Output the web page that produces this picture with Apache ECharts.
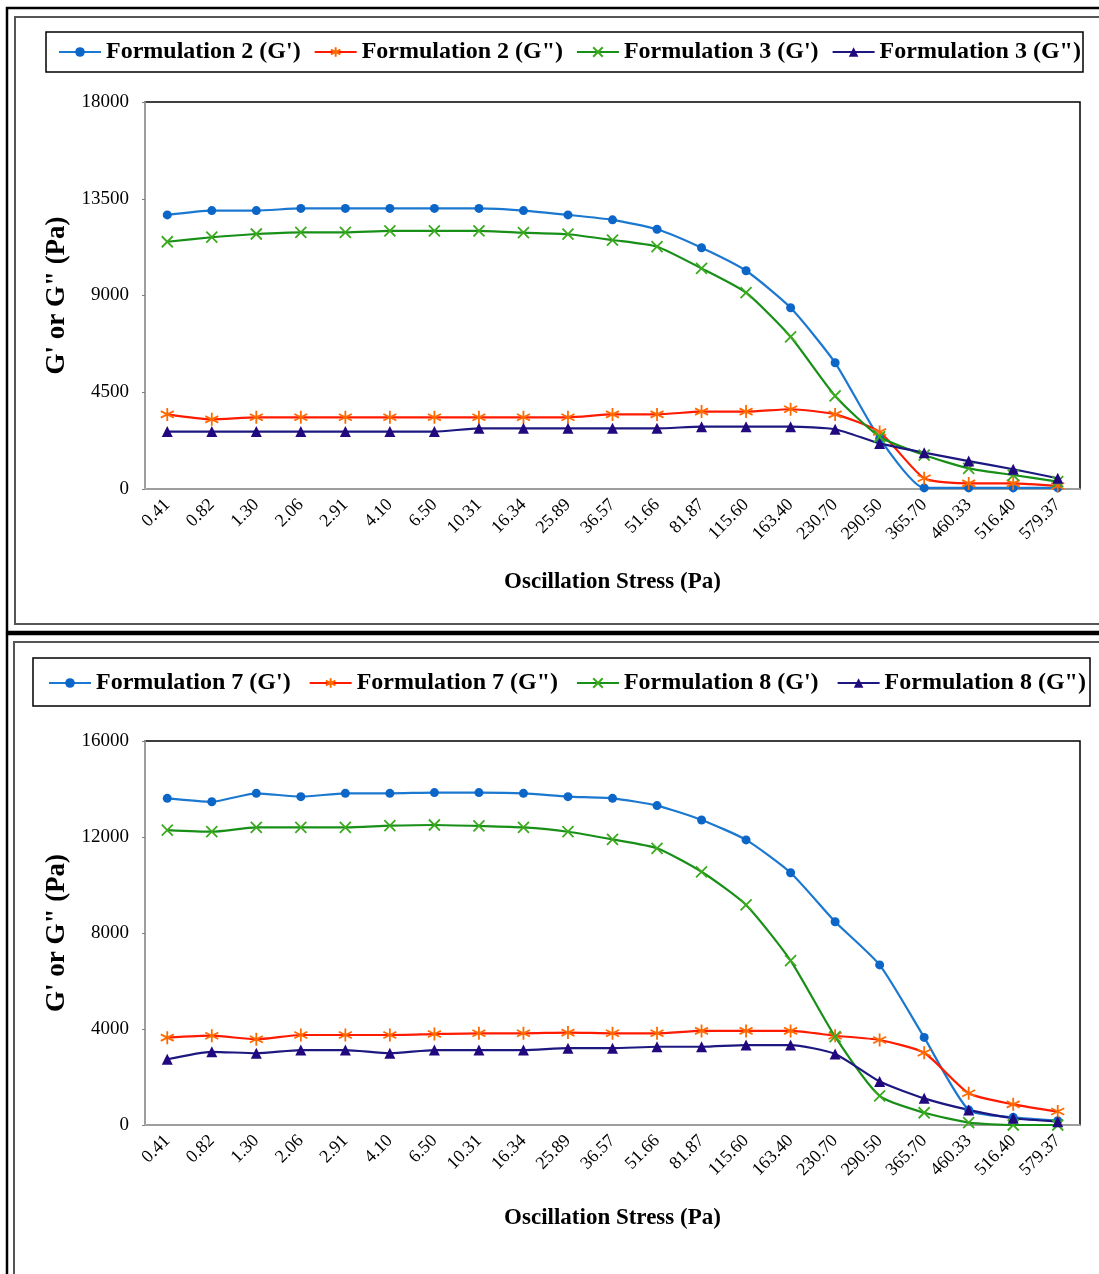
<!DOCTYPE html>
<html>
<head>
<meta charset="utf-8">
<script src="https://cdn.jsdelivr.net/npm/echarts@6/dist/echarts.min.js"></script>
<style>
html,body{margin:0;padding:0;background:#fff;}
#chart{width:1099px;height:1274px;}
</style>
</head>
<body>
<div id="chart"></div>
<script>
var categories = ['0.41','0.82','1.30','2.06','2.91','4.10','6.50','10.31','16.34','25.89','36.57','51.66','81.87','115.60','163.40','230.70','290.50','365.70','460.33','516.40','579.37'];

var topYTicks = [0, 4500, 9000, 13500, 18000];
var bottomYTicks = [0, 4000, 8000, 12000, 16000];

var f2G1 = [12750,12950,12950,13050,13050,13050,13050,13050,12950,12750,12520,12080,11220,10150,8430,5870,2350,50,50,50,50];
var f2G2 = [3470,3240,3335,3335,3335,3335,3335,3335,3335,3335,3470,3470,3600,3600,3710,3470,2650,500,260,260,140];
var f3G1 = [11500,11710,11860,11940,11940,12010,12010,12010,11920,11850,11580,11270,10260,9130,7080,4330,2430,1580,960,650,340];
var f3G2 = [2670,2670,2670,2670,2670,2670,2670,2820,2820,2820,2820,2820,2900,2900,2900,2780,2120,1690,1300,920,500];

var f7G1 = [13610,13470,13820,13680,13820,13820,13850,13850,13820,13680,13610,13310,12710,11880,10510,8470,6670,3650,630,320,180];
var f7G2 = [3640,3720,3570,3750,3750,3750,3790,3820,3820,3850,3820,3820,3920,3920,3920,3720,3540,3010,1320,860,560];
var f8G1 = [12290,12220,12400,12400,12400,12470,12500,12460,12400,12220,11900,11530,10550,9170,6850,3680,1210,510,100,0,0];
var f8G2 = [2740,3050,2990,3120,3120,2990,3120,3120,3120,3200,3200,3260,3260,3330,3330,2960,1810,1110,630,280,140];

var topNames = ["Formulation 2 (G')", 'Formulation 2 (G")', "Formulation 3 (G')", 'Formulation 3 (G")'];
var bottomNames = ["Formulation 7 (G')", 'Formulation 7 (G")', "Formulation 8 (G')", 'Formulation 8 (G")'];

var FONT = "'Liberation Serif', 'Times New Roman', serif";
var ASTER = 'path://M10,0 L10,20 M1.34,5 L18.66,15 M1.34,15 L18.66,5';
var XMARK = 'path://M0,0 L20,20 M0,20 L20,0';

var styles = [
  {line:'#1B78D0', mark:'#0B66C8', symbol:'circle', size:9, stroke:false},
  {line:'#FF1A00', mark:'#FF6A00', symbol:ASTER, size:13, stroke:true},
  {line:'#189018', mark:'#3BAA1E', symbol:XMARK, size:11, stroke:true},
  {line:'#1C1880', mark:'#22087F', symbol:'triangle', size:11, stroke:false}
];

function mkSeries(name, data, st, idx) {
  var itemStyle = st.stroke ? {color: st.mark, borderColor: st.mark, borderWidth: 1.8} : {color: st.mark, borderWidth: 0};
  return {
    name: name, type: 'line', data: data,
    xAxisIndex: idx, yAxisIndex: idx,
    symbol: st.symbol, symbolSize: st.size, showSymbol: true,
    smooth: 0.2,
    lineStyle: {color: st.line, width: 2.2},
    itemStyle: itemStyle,
    emphasis: {disabled: true},
    animation: false
  };
}

var series = [];
[f2G1, f2G2, f3G1, f3G2].forEach(function(d, i){ series.push(mkSeries(topNames[i], d, styles[i], 0)); });
[f7G1, f7G2, f8G1, f8G2].forEach(function(d, i){ series.push(mkSeries(bottomNames[i], d, styles[i], 1)); });

function xAxisCfg(gi) {
  return {
    type: 'category', gridIndex: gi, data: categories, boundaryGap: true,
    axisLine: {show: true, lineStyle: {color: '#BFBFBF', width: 1.5}},
    axisTick: {show: false},
    axisLabel: {rotate: 45, fontFamily: FONT, fontSize: 18, color: '#000', margin: 13, interval: 0},
    name: 'Oscillation Stress (Pa)', nameLocation: 'middle', nameGap: 82,
    nameTextStyle: {fontFamily: FONT, fontSize: 23, fontWeight: 'bold', color: '#000'},
    splitLine: {show: false}
  };
}
function yAxisCfg(gi, ticks) {
  return {
    type: 'value', gridIndex: gi, min: ticks[0], max: ticks[ticks.length-1], interval: ticks[1]-ticks[0],
    axisLine: {show: true, lineStyle: {color: '#BFBFBF', width: 1.5}},
    axisTick: {show: true, length: 3, lineStyle: {color: '#7F7F7F'}},
    axisLabel: {fontFamily: FONT, fontSize: 19, color: '#000', margin: 16, formatter: function(v){ return String(v); }},
    splitLine: {show: false},
    name: 'G\' or G" (Pa)', nameLocation: 'middle', nameGap: 73,
    nameTextStyle: {fontFamily: FONT, fontSize: 27, fontWeight: 'bold', color: '#000'}
  };
}

function legendCfg(names, top, left, gap) {
  return {
    data: names, top: top, left: left, orient: 'horizontal',
    itemWidth: 42, itemHeight: 12, itemGap: gap,
    textStyle: {fontFamily: FONT, fontSize: 24, fontWeight: 'bold', color: '#000'},
    selectedMode: false, padding: 0
  };
}

var chart = echarts.init(document.getElementById('chart'), null, {renderer: 'canvas'});
chart.setOption({
  backgroundColor: '#fff',
  animation: false,
  legend: [legendCfg(topNames, 40, 58, 13), legendCfg(bottomNames, 671, 48, 18)],
  grid: [
    {left: 145, right: 19, top: 102, height: 387, show: true, borderColor: '#000', borderWidth: 1.5, backgroundColor: 'transparent'},
    {left: 145, right: 19, top: 741, height: 384, show: true, borderColor: '#000', borderWidth: 1.5, backgroundColor: 'transparent'}
  ],
  xAxis: [xAxisCfg(0), xAxisCfg(1)],
  yAxis: [yAxisCfg(0, topYTicks), yAxisCfg(1, bottomYTicks)],
  series: series,
  graphic: [
    {type: 'rect', shape: {x: 7, y: 8, width: 1110, height: 624}, style: {fill: 'none', stroke: '#000', lineWidth: 2.5}, silent: true},
    {type: 'rect', shape: {x: 15, y: 17, width: 1100, height: 607}, style: {fill: 'none', stroke: '#555', lineWidth: 2}, silent: true},
    {type: 'rect', shape: {x: 7, y: 634, width: 1110, height: 700}, style: {fill: 'none', stroke: '#000', lineWidth: 2.5}, silent: true},
    {type: 'rect', shape: {x: 14, y: 642, width: 1100, height: 700}, style: {fill: 'none', stroke: '#555', lineWidth: 2}, silent: true},
    {type: 'rect', shape: {x: 46, y: 32, width: 1037, height: 40}, style: {fill: 'none', stroke: '#000', lineWidth: 1.5}, silent: true},
    {type: 'rect', shape: {x: 33, y: 658, width: 1057, height: 48}, style: {fill: 'none', stroke: '#000', lineWidth: 1.5}, silent: true}
  ]
});
</script>
</body>
</html>
